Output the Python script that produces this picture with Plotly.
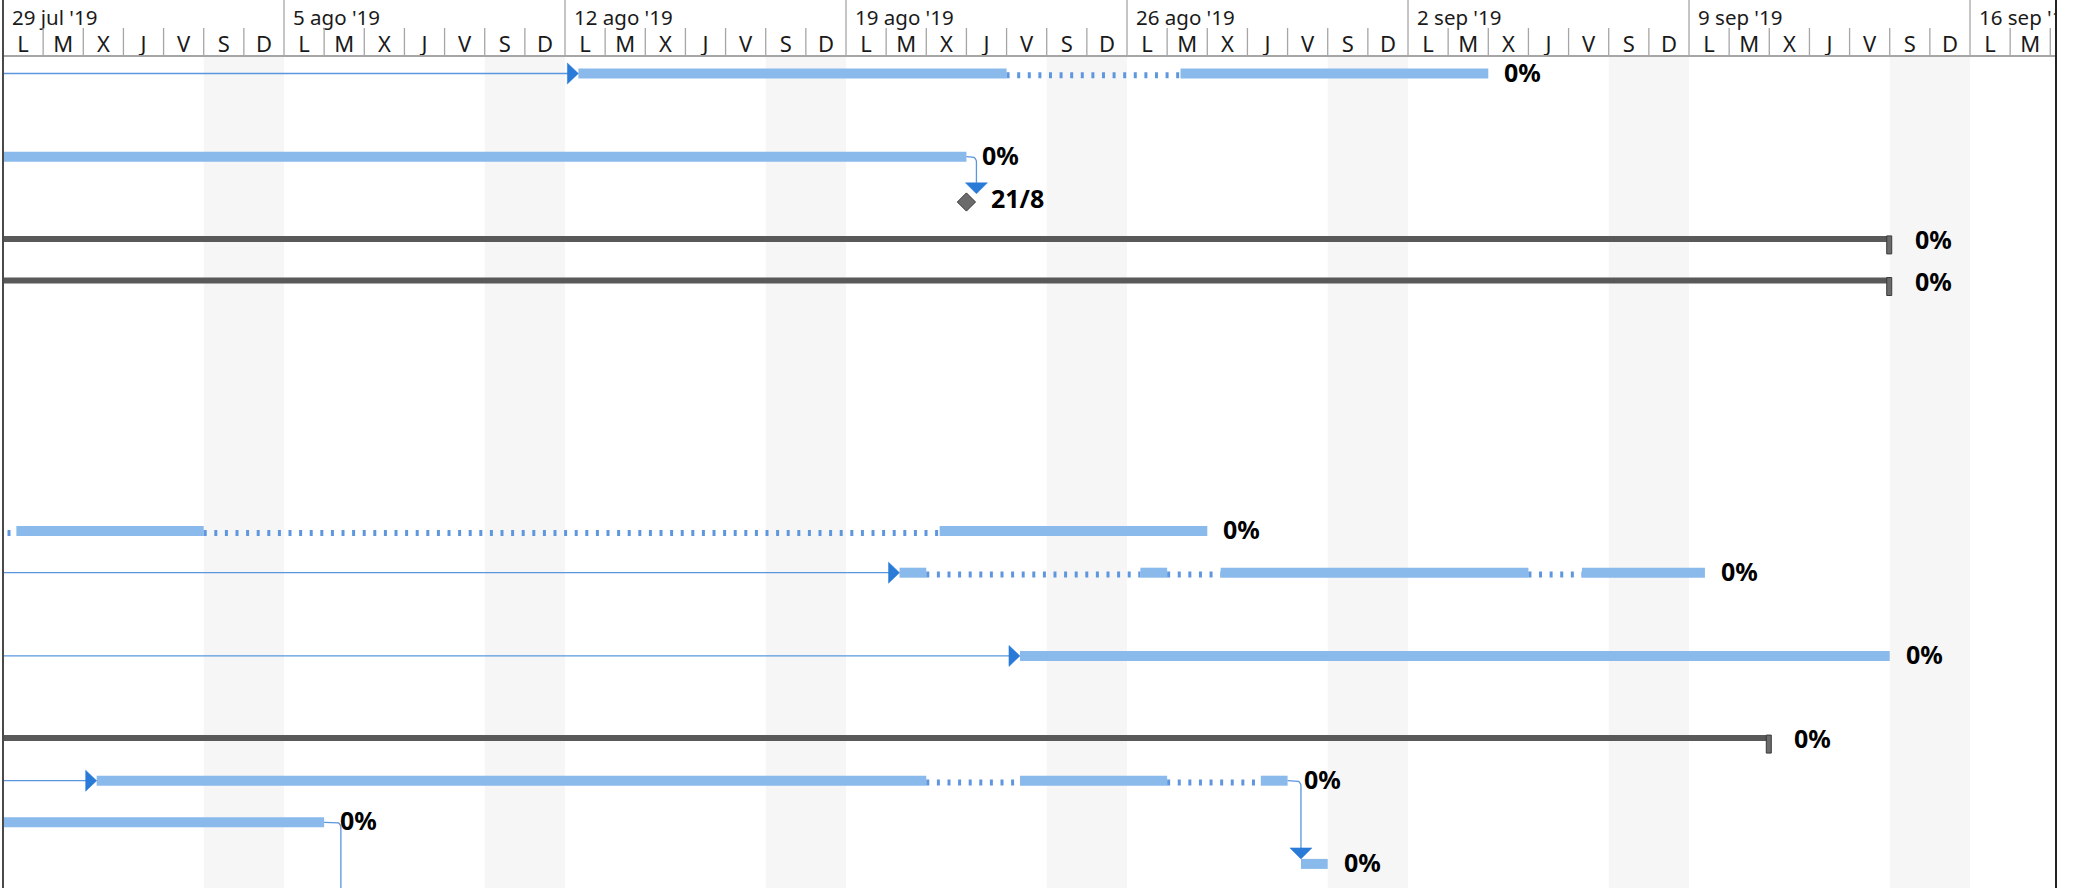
import math
import pandas as pd
import plotly.graph_objects as go

# ---------------- data ----------------
WEEK_LABELS = ["29 jul '19", "5 ago '19", "12 ago '19", "19 ago '19",
               "26 ago '19", "2 sep '19", "9 sep '19", "16 sep '19"]
DAY_LETTERS = ["L", "M", "X", "J", "V", "S", "D"]
TIMESCALE_START = "2019-07-29"

TASK_ROWS = [0, 2, 11, 12, 14, 17, 18, 19]
TASK_SEGMENTS = [
    [("2019-08-12 08:00", "2019-08-23 00:00"), ("2019-08-27 08:00", "2019-09-04 00:00")],
    [("2019-07-22 08:00", "2019-08-22 00:00")],
    [("2019-07-22 08:00", "2019-07-27 00:00"), ("2019-07-29 08:00", "2019-08-03 00:00"),
     ("2019-08-21 08:00", "2019-08-28 00:00")],
    [("2019-08-20 08:00", "2019-08-21 00:00"), ("2019-08-26 08:00", "2019-08-27 00:00"),
     ("2019-08-28 08:00", "2019-09-05 00:00"), ("2019-09-06 08:00", "2019-09-09 09:30")],
    [("2019-08-23 08:00", "2019-09-14 00:00")],
    [("2019-07-31 08:00", "2019-08-21 00:00"), ("2019-08-23 08:00", "2019-08-27 00:00"),
     ("2019-08-29 08:00", "2019-08-30 00:00")],
    [("2019-07-22 08:00", "2019-08-06 00:00")],
    [("2019-08-30 08:00", "2019-08-31 00:00")],
]
TASK_COMPLETE = ["0%", "0%", "0%", "0%", "0%", "0%", "0%", "0%"]
TASK_EXTERNAL_PRED = [True, False, False, True, True, True, False, False]

SUMMARY_ROWS = [4, 5, 16]
SUMMARY_STARTS = ["2019-07-15", "2019-07-15", "2019-07-15"]
SUMMARY_ENDS = ["2019-09-14", "2019-09-14", "2019-09-11"]
SUMMARY_COMPLETE = ["0%", "0%", "0%"]

MILESTONE_ROWS = [3]
MILESTONE_DATES = ["2019-08-22 00:00"]
MILESTONE_LABELS = ["21/8"]

LINK_PRED_ROWS = [2, 17, 18]
LINK_SUCC_ROWS = [3, 19, 21]
LINK_SUCC_STARTS = ["2019-08-22 00:00", "2019-08-30 08:00", "2019-08-06 10:00"]
LINK_SUCC_IS_MILESTONE = [True, False, False]

# ---------------- geometry / style ----------------
W, H = 2073, 888
LEFT_PX, RIGHT_PX = 3, 2056
HEADER_PX = 57
DAY_PX = 40.143
ROW0_PX = 73.5
ROW_PX = 41.6

FONT = "Noto Sans"
BAR_COLOR = "#8ab9eb"
SPLIT_COLOR = "#5f97df"
LINK_COLOR = "#5a96de"
ARROW_COLOR = "#2a7bd8"
SUMMARY_COLOR = "#595959"
GRID_COLOR = "#a6a6a6"
WEEKEND_COLOR = "#f6f6f6"
TEXT_COLOR = "#1a1a1a"


def xs(t, px=0.0):
    return pd.Timestamp(t) + pd.Timedelta(milliseconds=px * 86400000.0 / DAY_PX)


def ys(row, px=0.0):
    return row + px / ROW_PX


fig = go.Figure()
t0 = pd.Timestamp(TIMESCALE_START)
x_end = xs(t0, RIGHT_PX - LEFT_PX)
shapes = []
annotations = []

# weekend shading + header grid
n_days = 7 * len(WEEK_LABELS)
for d in range(n_days):
    day = t0 + pd.Timedelta(days=d)
    if d % 7 == 5:
        shapes.append(dict(type="rect", xref="x", yref="y2", x0=day, x1=day + pd.Timedelta(days=2),
                           y0=HEADER_PX, y1=H, fillcolor=WEEKEND_COLOR, line=dict(width=0),
                           layer="below"))
    if d % 7 == 0:
        if d > 0:
            shapes.append(dict(type="line", xref="x", yref="y2", x0=day, x1=day, y0=0, y1=HEADER_PX,
                               line=dict(color=GRID_COLOR, width=1.3)))
    else:
        shapes.append(dict(type="line", xref="x", yref="y2", x0=day, x1=day, y0=28, y1=HEADER_PX,
                           line=dict(color=GRID_COLOR, width=1.3)))
shapes.append(dict(type="line", xref="paper", yref="y2", x0=0, x1=1, y0=HEADER_PX - 1, y1=HEADER_PX - 1,
                   line=dict(color=GRID_COLOR, width=2)))
# borders
shapes.append(dict(type="line", xref="paper", yref="paper", x0=0, x1=0, y0=0, y1=1,
                   line=dict(color="#4a4a4a", width=2)))
shapes.append(dict(type="line", xref="paper", yref="paper", x0=1, x1=1, y0=0, y1=1,
                   line=dict(color="#222222", width=2)))

# header text
fig.add_trace(go.Scatter(
    x=[xs(t0 + pd.Timedelta(days=7 * i), 9) for i in range(len(WEEK_LABELS))],
    y=[19.5] * len(WEEK_LABELS), yaxis="y2", mode="text", text=WEEK_LABELS,
    textposition="middle right", textfont=dict(family=FONT, size=20.5, color=TEXT_COLOR),
    hoverinfo="skip", cliponaxis=True))
fig.add_trace(go.Scatter(
    x=[t0 + pd.Timedelta(hours=24 * d + 12) for d in range(n_days)],
    y=[46] * n_days, yaxis="y2", mode="text", text=[DAY_LETTERS[d % 7] for d in range(n_days)],
    textposition="middle center", textfont=dict(family=FONT, size=22, color=TEXT_COLOR),
    hoverinfo="skip", cliponaxis=True))

# external predecessor lines (from the left) + start arrows
lx, ly = [], []
arr_x, arr_y = [], []
for row, segs, ext in zip(TASK_ROWS, TASK_SEGMENTS, TASK_EXTERNAL_PRED):
    if not ext:
        continue
    start = segs[0][0]
    lx += [pd.Timestamp("2019-07-15"), xs(start, -10), None]
    ly += [row, row, None]
    arr_x += [xs(start, -11), xs(start, -11), xs(start, 0), xs(start, -11), None]
    arr_y += [ys(row, -10.5), ys(row, 10.5), row, ys(row, -10.5), None]

# links (finish-to-start, drawn downward)
task_end = {r: segs[-1][1] for r, segs in zip(TASK_ROWS, TASK_SEGMENTS)}
R = 5.0
for pr, sr, ss, ism in zip(LINK_PRED_ROWS, LINK_SUCC_ROWS, LINK_SUCC_STARTS, LINK_SUCC_IS_MILESTONE):
    pe = task_end[pr]
    vx_px = max(10.0, (pd.Timestamp(ss) - pd.Timestamp(pe)).total_seconds() / 86400.0 * DAY_PX)
    tip = ys(sr, -4.5) if ism else ys(sr, -5)
    head_top = tip - 11 / ROW_PX
    px_list = [xs(pe, 0), xs(pe, vx_px - R)]
    py_list = [pr, pr]
    for k in range(1, 7):
        th = -math.pi / 2 + k * (math.pi / 2) / 6
        px_list.append(xs(pe, vx_px - R + R * math.cos(th)))
        py_list.append(ys(pr, R + R * math.sin(th)))
    px_list += [xs(pe, vx_px), None]
    py_list += [head_top, None]
    lx += px_list
    ly += py_list
    arr_x += [xs(pe, vx_px - 11), xs(pe, vx_px + 11), xs(pe, vx_px), xs(pe, vx_px - 11), None]
    arr_y += [head_top, head_top, tip, head_top, None]

fig.add_trace(go.Scatter(x=lx, y=ly, mode="lines", line=dict(color=LINK_COLOR, width=1.3),
                         hoverinfo="skip", connectgaps=False))

# split (dotted) parts of tasks
for row, segs in zip(TASK_ROWS, TASK_SEGMENTS):
    for (s0, e0), (s1, e1) in zip(segs[:-1], segs[1:]):
        fig.add_trace(go.Scatter(x=[pd.Timestamp(e0), pd.Timestamp(s1)], y=[ys(row, 1.8), ys(row, 1.8)],
                                 mode="lines", line=dict(color=SPLIT_COLOR, width=6, dash="3px,7.6px"),
                                 hoverinfo="skip"))

# task bars
bar_y, bar_base, bar_len = [], [], []
for row, segs in zip(TASK_ROWS, TASK_SEGMENTS):
    for s, e in segs:
        bar_y.append(row)
        bar_base.append(pd.Timestamp(s))
        bar_len.append((pd.Timestamp(e) - pd.Timestamp(s)).total_seconds() * 1000.0)
fig.add_trace(go.Bar(y=bar_y, base=bar_base, x=bar_len, orientation="h", width=10 / ROW_PX,
                     marker=dict(color=BAR_COLOR, line=dict(width=0)), hoverinfo="skip"))

# summary bars
fig.add_trace(go.Bar(y=[ys(r, -1) for r in SUMMARY_ROWS], base=[pd.Timestamp(s) for s in SUMMARY_STARTS],
                     x=[(pd.Timestamp(e) - pd.Timestamp(s)).total_seconds() * 1000.0
                        for s, e in zip(SUMMARY_STARTS, SUMMARY_ENDS)],
                     orientation="h", width=6 / ROW_PX,
                     marker=dict(color=SUMMARY_COLOR, line=dict(width=0)), hoverinfo="skip"))
cx, cy = [], []
for r, e in zip(SUMMARY_ROWS, SUMMARY_ENDS):
    cx += [xs(e, -3), xs(e, 2), xs(e, 2), xs(e, -3), xs(e, -3), None]
    cy += [ys(r, -4), ys(r, -4), ys(r, 14), ys(r, 14), ys(r, -4), None]
fig.add_trace(go.Scatter(x=cx, y=cy, mode="lines", fill="toself", fillcolor="#6b6b6b",
                         line=dict(color="#3a3a3a", width=1), hoverinfo="skip"))

# arrows
fig.add_trace(go.Scatter(x=arr_x, y=arr_y, mode="lines", fill="toself", fillcolor=ARROW_COLOR,
                         line=dict(color=ARROW_COLOR, width=0.5), hoverinfo="skip"))

# milestones
fig.add_trace(go.Scatter(x=[pd.Timestamp(d) for d in MILESTONE_DATES],
                         y=[ys(r, 3.7) for r in MILESTONE_ROWS], mode="markers",
                         marker=dict(symbol="diamond", size=14, color="#6b6b6b",
                                     line=dict(color="#333333", width=1)), hoverinfo="skip"))

# labels
lab_font = dict(family=FONT, size=25, color="#000000", weight=700)
for row, segs, txt in zip(TASK_ROWS, TASK_SEGMENTS, TASK_COMPLETE):
    annotations.append(dict(x=pd.Timestamp(segs[-1][1]), y=row, xref="x", yref="y", text=txt,
                            showarrow=False, xanchor="left", yanchor="middle", xshift=14, yshift=2,
                            font=lab_font))
for r, e, txt in zip(SUMMARY_ROWS, SUMMARY_ENDS, SUMMARY_COMPLETE):
    annotations.append(dict(x=pd.Timestamp(e), y=r, xref="x", yref="y", text=txt, showarrow=False,
                            xanchor="left", yanchor="middle", xshift=23, yshift=1, font=lab_font))
for r, d, txt in zip(MILESTONE_ROWS, MILESTONE_DATES, MILESTONE_LABELS):
    annotations.append(dict(x=pd.Timestamp(d), y=r, xref="x", yref="y", text=txt, showarrow=False,
                            xanchor="left", yanchor="middle", xshift=23, yshift=0, font=lab_font))

fig.update_layout(
    width=W, height=H,
    margin=dict(l=LEFT_PX, r=W - RIGHT_PX, t=0, b=0, pad=0),
    paper_bgcolor="white", plot_bgcolor="white",
    showlegend=False, barmode="overlay", hovermode=False,
    xaxis=dict(type="date", range=[t0, x_end], visible=False, showgrid=False, zeroline=False,
               fixedrange=True),
    yaxis=dict(range=[(H - ROW0_PX) / ROW_PX, -ROW0_PX / ROW_PX], visible=False, showgrid=False,
               zeroline=False, fixedrange=True),
    yaxis2=dict(range=[H, 0], overlaying="y", visible=False, showgrid=False, zeroline=False,
                fixedrange=True),
    shapes=shapes, annotations=annotations,
)

fig.write_html("out.html", config={"displayModeBar": False},
               post_script="document.body.style.margin='0';document.body.style.overflow='hidden';")
